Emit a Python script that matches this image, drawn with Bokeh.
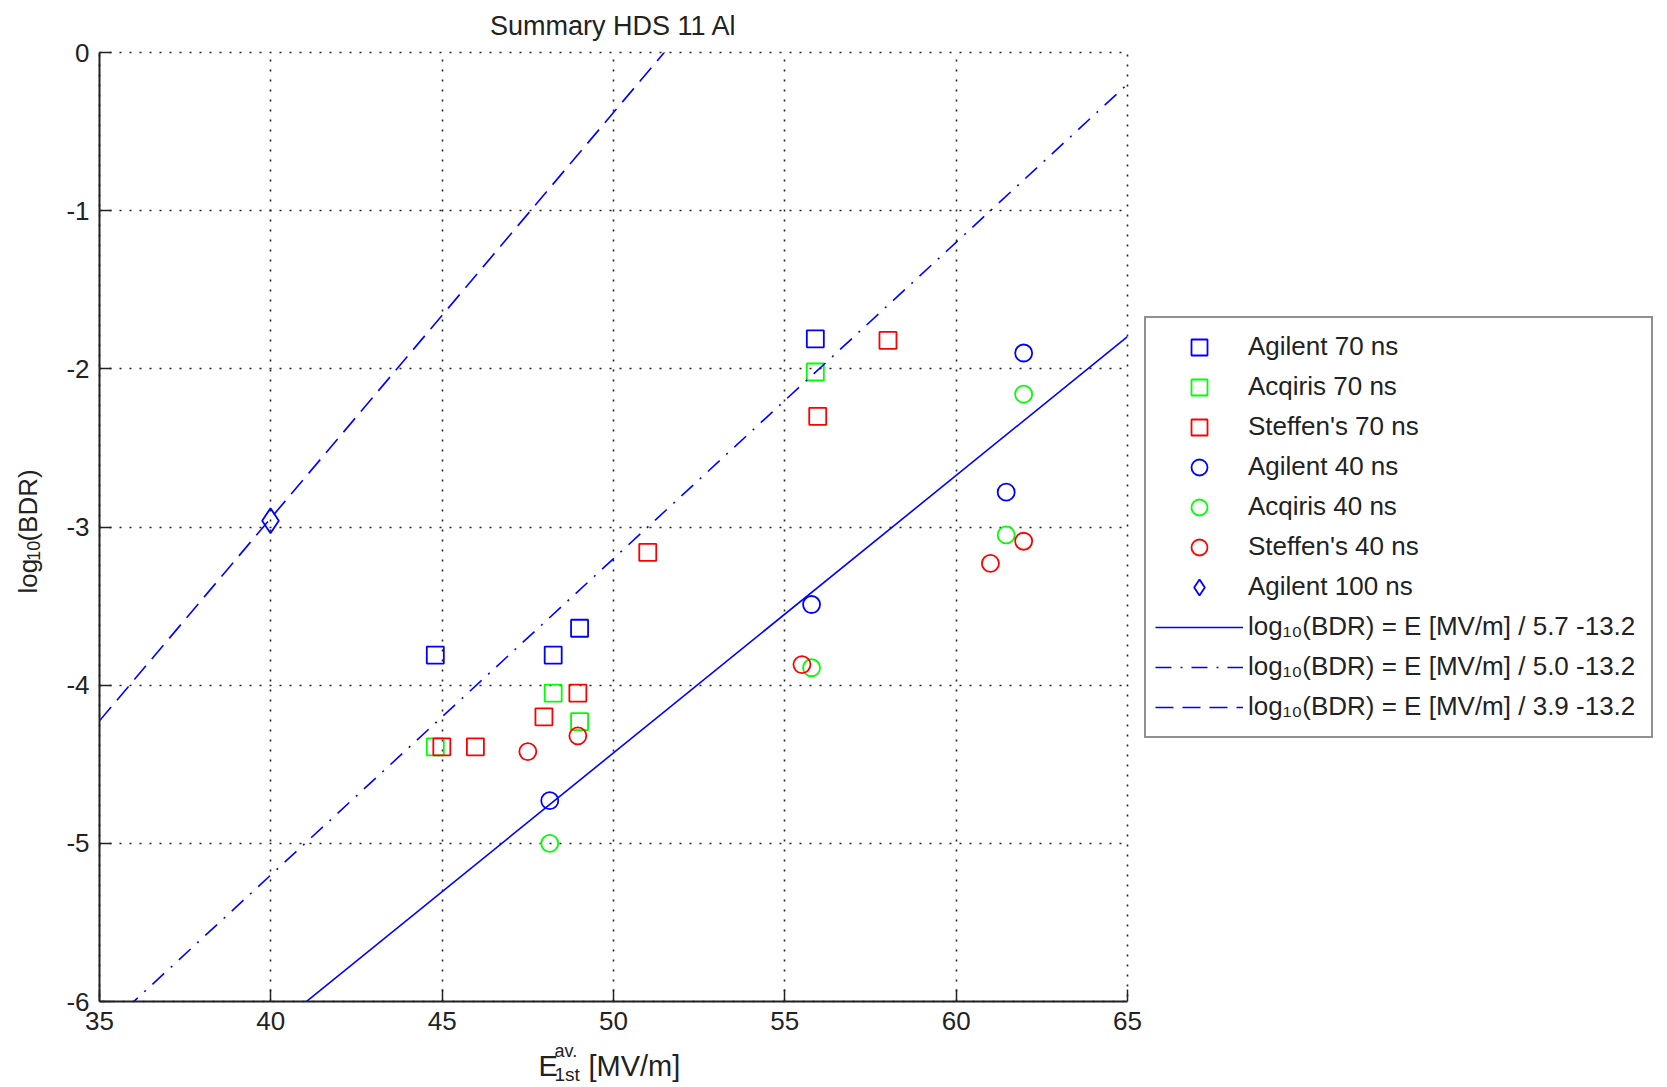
import numpy as np
from bokeh.plotting import figure
from bokeh.layouts import column, row
from bokeh.models import Range1d, FixedTicker, Legend, LegendItem
from bokeh.core.properties import value
from bokeh.embed import file_html
from bokeh.resources import INLINE

# Breakdown rate measurements: first-cell average field [MV/m] vs log10(BDR)
agilent70_E = [44.80, 48.24, 49.01, 55.89]
agilent70_bdr = [-3.81, -3.81, -3.64, -1.81]
acqiris70_E = [44.80, 48.24, 49.01, 55.89]
acqiris70_bdr = [-4.39, -4.05, -4.23, -2.02]
steffen70_E = [44.99, 45.97, 47.97, 48.96, 51.0, 55.96, 58.01]
steffen70_bdr = [-4.39, -4.39, -4.20, -4.05, -3.16, -2.30, -1.82]
agilent40_E = [48.14, 55.78, 61.46, 61.97]
agilent40_bdr = [-4.73, -3.49, -2.78, -1.90]
acqiris40_E = [48.14, 55.78, 61.46, 61.97]
acqiris40_bdr = [-5.0, -3.89, -3.05, -2.16]
steffen40_E = [47.5, 48.96, 55.5, 61.0, 61.97]
steffen40_bdr = [-4.42, -4.32, -3.87, -3.23, -3.09]
agilent100_E = [39.99]
agilent100_bdr = [-2.96]

# Scaling-law fits: log10(BDR) = E / divisor + offset
fit_divisors = [5.7, 5.0, 3.9]
fit_offset = -13.2

x_ticks = [35, 40, 45, 50, 55, 60, 65]
y_ticks = [-6, -5, -4, -3, -2, -1, 0]

FONT = "Liberation Sans"
INK = "#222222"
BLUE, GREEN, RED = "#0000ff", "#00ff00", "#ff0000"

YLAB_W = 50          # strip holding the rotated y-axis title
XLAB_H = 45          # strip holding the x-axis title
MAIN_H = 1087 - XLAB_H

p = figure(frame_width=1028, height=MAIN_H,
           x_range=Range1d(35, 65), y_range=Range1d(-6, 0),
           output_backend="svg", toolbar_location=None,
           min_border_left=49, min_border_right=0,
           min_border_top=52, min_border_bottom=41)

p.title.text = "Summary HDS 11 Al"
p.title.align = "center"
p.title.vertical_align = "top"
p.title.text_font = FONT
p.title.text_font_size = "27px"
p.title.text_font_style = "normal"
p.title.text_color = INK
p.title.standoff = 19

# the top and right edges are dotted like the grid
p.outline_line_color = INK
p.outline_line_dash = "2 8"
p.outline_line_width = 1.6
p.background_fill_color = "white"
p.border_fill_color = "white"

p.xaxis.ticker = FixedTicker(ticks=x_ticks)
p.yaxis.ticker = FixedTicker(ticks=y_ticks)
p.xaxis.major_label_overrides = {t: str(t) for t in x_ticks}
p.yaxis.major_label_overrides = {t: str(t) for t in y_ticks}
for ax in (p.xaxis[0], p.yaxis[0]):
    ax.axis_line_width = 2
    ax.axis_line_color = INK
    ax.major_tick_in = 12
    ax.major_tick_out = 0
    ax.major_tick_line_width = 1.5
    ax.major_tick_line_color = INK
    ax.minor_tick_line_color = None
    ax.major_label_text_font = FONT
    ax.major_label_text_font_size = "26px"
    ax.major_label_text_color = INK
    ax.major_label_standoff = 10

for g in (p.xgrid[0], p.ygrid[0]):
    g.grid_line_color = INK
    g.grid_line_dash = "2 8"
    g.grid_line_width = 1.6

mk = dict(fill_color=None, line_width=1.8)
r_ag70 = p.scatter(agilent70_E, agilent70_bdr, marker="square", size=17, line_color=BLUE, **mk)
r_aq70 = p.scatter(acqiris70_E, acqiris70_bdr, marker="square", size=17, line_color=GREEN, **mk)
r_st70 = p.scatter(steffen70_E, steffen70_bdr, marker="square", size=17, line_color=RED, **mk)
r_ag40 = p.scatter(agilent40_E, agilent40_bdr, marker="circle", size=17, line_color=BLUE, **mk)
r_aq40 = p.scatter(acqiris40_E, acqiris40_bdr, marker="circle", size=17, line_color=GREEN, **mk)
r_st40 = p.scatter(steffen40_E, steffen40_bdr, marker="circle", size=17, line_color=RED, **mk)
r_ag100 = p.scatter(agilent100_E, agilent100_bdr, marker="diamond", size=25, line_color=BLUE, **mk)

E_span = np.array([35.0, 65.0])
fit_dashes = ["solid", "16 9 2 9", "18 9"]
fit_renderers = []
for div, dash in zip(fit_divisors, fit_dashes):
    r = p.line(E_span, E_span / div + fit_offset, line_color=BLUE,
               line_width=1.6, line_dash=dash)
    fit_renderers.append(r)

items = [
    LegendItem(label="Agilent 70 ns", renderers=[r_ag70]),
    LegendItem(label="Acqiris 70 ns", renderers=[r_aq70]),
    LegendItem(label="Steffen's 70 ns", renderers=[r_st70]),
    LegendItem(label="Agilent 40 ns", renderers=[r_ag40]),
    LegendItem(label="Acqiris 40 ns", renderers=[r_aq40]),
    LegendItem(label="Steffen's 40 ns", renderers=[r_st40]),
    LegendItem(label="Agilent 100 ns", renderers=[r_ag100]),
]
for div, r in zip(fit_divisors, fit_renderers):
    items.append(LegendItem(
        label=f"log\u2081\u2080(BDR) = E [MV/m] / {div:.1f} {fit_offset:.1f}",
        renderers=[r]))

legend = Legend(items=items, location="center_left")
legend.margin = 17
legend.padding = 9
legend.spacing = 0
legend.glyph_width = 88
legend.glyph_height = 40
legend.label_height = 30
legend.label_width = 394
legend.label_standoff = 5
legend.label_text_font = FONT
legend.label_text_font_size = "26px"
legend.label_text_color = INK
legend.border_line_color = INK
legend.border_line_width = 2
legend.background_fill_color = "white"
legend.background_fill_alpha = 1.0
p.add_layout(legend, "right")


def text_strip(width, height):
    """A bare figure whose data units are pixels, used to typeset axis titles."""
    f = figure(width=width, height=height, title=None,
               x_range=Range1d(0, width), y_range=Range1d(0, height),
               output_backend="svg", toolbar_location=None,
               x_axis_type=None, y_axis_type=None, min_border=0)
    f.outline_line_color = None
    f.background_fill_color = "white"
    f.border_fill_color = "white"
    return f


# y-axis title: log_10(BDR), reading upwards
ylab = text_strip(YLAB_W, MAIN_H)
rot = np.pi / 2
ylab.text(x=[27, 27], y=[MAIN_H - 594, MAIN_H - 537], text=["log", "(BDR)"],
          angle=rot, text_font=value(FONT), text_font_size="26px",
          text_color=INK, text_align="left", text_baseline="alphabetic")
ylab.text(x=[32.5], y=[MAIN_H - 558], text=["10"],
          angle=rot, text_font=value(FONT), text_font_size="18px",
          text_color=INK, text_align="left", text_baseline="alphabetic")

# x-axis title: E with superscript "av." and subscript "1st", then the unit
xlab = text_strip(1667, XLAB_H)
xlab.text(x=[538, 588], y=[1087 - 1065, 1087 - 1065], text=["E", "[MV/m]"],
          text_font=value(FONT), text_font_size="29px",
          text_color=INK, text_align="left", text_baseline="alphabetic")
xlab.text(x=[554], y=[1087 - 1050], text=["av."],
          text_font=value(FONT), text_font_size="18px",
          text_color=INK, text_align="left", text_baseline="alphabetic")
xlab.text(x=[554], y=[1087 - 1074], text=["1st"],
          text_font=value(FONT), text_font_size="19px",
          text_color=INK, text_align="left", text_baseline="alphabetic")

layout = column(row(ylab, p, spacing=0), xlab, spacing=0)

open("out.html", "w").write(file_html(layout, INLINE))
